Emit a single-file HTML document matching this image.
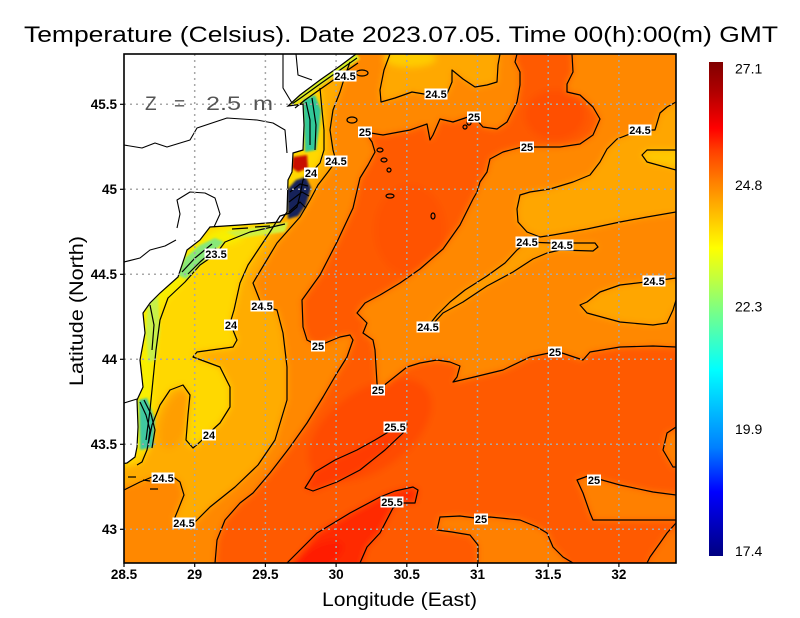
<!DOCTYPE html>
<html><head><meta charset="utf-8"><style>
html,body{margin:0;padding:0;background:#fff;}
svg{display:block;}
text{font-family:"Liberation Sans",sans-serif;}
.lab rect{fill:#fff;}
.lab text{font-size:11px;font-weight:bold;text-anchor:middle;fill:#000;}
</style></head><body>
<svg width="800" height="618" viewBox="0 0 800 618" xmlns="http://www.w3.org/2000/svg">
<defs>
<clipPath id="clip"><rect x="124" y="54" width="552" height="509"/></clipPath>
<filter id="blur" filterUnits="userSpaceOnUse" x="80" y="20" width="640" height="590"><feGaussianBlur stdDeviation="3.5"/></filter>
<filter id="blur1" filterUnits="userSpaceOnUse" x="80" y="20" width="640" height="590"><feGaussianBlur stdDeviation="1"/></filter>
<linearGradient id="cb" x1="0" y1="0" x2="0" y2="1">
<stop offset="0" stop-color="#800000"/><stop offset="0.06" stop-color="#b00000"/><stop offset="0.134" stop-color="#ff0000"/><stop offset="0.18" stop-color="#ff4000"/><stop offset="0.243" stop-color="#ff8000"/><stop offset="0.31" stop-color="#ffc000"/><stop offset="0.377" stop-color="#ffff00"/><stop offset="0.44" stop-color="#c0ff40"/><stop offset="0.498" stop-color="#80ff80"/><stop offset="0.56" stop-color="#40ffc0"/><stop offset="0.623" stop-color="#00ffff"/><stop offset="0.7" stop-color="#00c0ff"/><stop offset="0.78" stop-color="#0080ff"/><stop offset="0.87" stop-color="#0000ff"/><stop offset="1" stop-color="#000080"/>
</linearGradient>
</defs>

<!-- Title -->
<text x="24" y="42" font-size="22" textLength="754" lengthAdjust="spacingAndGlyphs" fill="#000">Temperature (Celsius). Date 2023.07.05. Time 00(h):00(m) GMT</text>

<g clip-path="url(#clip)">
 <g filter="url(#blur)">
  <rect x="90" y="20" width="620" height="590" fill="#ff5a00"/>
  <ellipse cx="370" cy="430" rx="70" ry="40" fill="#ff4c00" transform="rotate(-35 370 430)"/>
  <ellipse cx="555" cy="115" rx="30" ry="25" fill="#ff5000"/>
  <ellipse cx="410" cy="230" rx="35" ry="45" fill="#ff5200"/>
  <polygon fill="#ff8800" points="110,40 517,40 515,62 520,72 520,85 517,102 507,122 497,129 483,127 474,117 468,117 453,122 440,119 433,135 430,140 427,124 410,130 383,135 365,132 372,142 375,152 368,165 360,178 353,208 337,242 320,275 302,300 303,327 307,340 318,346 340,337 350,335 353,340 347,357 337,373 323,397 307,423 290,447 270,473 253,493 240,503 225,520 217,540 214,578 110,578"/>
  <polygon fill="#ff8800" points="572,40 573,72 567,84 567,92 580,95 593,107 600,119 593,135 580,144 560,147 533,147 522,147 503,152 490,159 487,172 480,182 477,192 473,199 460,225 443,249 420,269 400,283 380,295 365,303 357,313 367,323 363,333 373,340 375,350 377,383 378,390 387,383 407,367 420,363 437,360 450,362 460,366 457,377 453,382 470,378 503,370 530,357 549,353 562,353 583,360 590,352 620,347 653,346 690,347 690,40"/>
  <polygon fill="#ff8000" points="575,578 563,557 553,547 547,533 537,527 520,520 490,517 475,518 460,516 440,517 437,530 452,532 470,535 478,545 478,578"/>
  <polygon fill="#ff8000" points="690,495 653,492 620,485 602,480 588,476 577,480 583,493 590,513 593,520 620,520 690,520"/>
  <polygon fill="#ff8000" points="690,427 667,433 663,450 673,467 690,467"/>
  <polygon fill="#ff7400" points="690,523 667,533 660,543 650,557 645,578 690,578"/>
  <polygon fill="#ffac00" points="352,40 350,62 345,76 340,92 333,110 330,130 333,150 336,161 328,172 318,185 310,200 300,217 277,243 253,283 262,306 277,310 283,333 287,367 287,400 275,440 258,465 235,487 210,507 195,522 184,523 173,522 178,510 184,495 180,482 172,476 163,478 152,477 140,482 110,490 110,40"/>
  <ellipse cx="176" cy="420" rx="13" ry="30" fill="#ff9e00" transform="rotate(20 176 420)"/>
  <polygon fill="#ffa800" points="390,40 384,70 380,90 381,102 395,98 412,92 424,94 447,94 452,82 452,70 463,79 475,87 487,85 497,82 498,65 500,40"/>
  <ellipse cx="410" cy="58" rx="26" ry="9" fill="#ffcc00"/>
  <polygon fill="#ffa600" points="690,102 667,107 660,113 655,130 640,130 617,139 607,149 600,162 590,175 573,182 550,189 530,192 520,195 517,209 518,222 527,232 540,237 553,235 587,229 620,222 647,217 690,212"/>
  <polygon fill="#ffc800" points="690,150 647,150 642,155 647,162 690,170"/>
  <polygon fill="#ffa600" points="690,278 654,281 620,285 600,292 587,302 580,305 587,313 620,322 653,325 667,323 673,310 690,300"/>
  <polygon fill="#ffa000" points="425,330 437,315 450,302 465,290 487,276 505,263 517,250 527,242 552,243 575,243 595,243 598,247 593,251 560,250 547,253 533,259 513,272 487,286 463,302 443,313 432,325"/>
  <polygon fill="#ffd800" points="320,88 322,110 324,130 324,150 320,163 311,173 303,180 300,195 297,207 290,213 280,216 270,232 258,250 248,265 240,283 234,310 231,320 233,330 237,340 233,347 197,352 193,357 220,367 230,387 230,407 220,423 208,434 200,442 193,448 186,440 188,415 190,395 183,385 170,390 160,405 152,425 147,450 142,462 110,470 110,80 300,80"/>
  <polyline fill="none" stroke="#f8f000" stroke-width="16" points="240,232 215,240 195,255 178,277 160,295 150,310 148,340 145,380 143,420 140,450"/>
  <polygon fill="#ff3a00" points="305,488 315,472 335,460 357,450 375,440 395,428 407,424 403,433 385,450 360,470 337,482 313,491"/>
  <polygon fill="#ff2c00" points="280,578 317,533 350,513 380,497 395,491 413,487 418,490 415,503 403,503 393,508 380,533 367,547 358,578"/>
  <ellipse cx="318" cy="558" rx="28" ry="12" fill="#ff1e00" transform="rotate(-30 318 558)"/>
 </g>

 <g filter="url(#blur1)">
  <polyline fill="none" stroke="#d8f028" stroke-width="7" points="290,104 300,96 320,82 340,68 358,56"/>
  <polygon fill="#30c898" points="303,100 315,95 321,110 319,130 316,150 305,152"/>
  <polygon fill="#c81000" points="293,157 307,155 308,168 298,172 292,168"/>
  <polygon fill="#14205a" points="287,190 296,180 306,177 311,188 306,205 298,216 288,219"/>
  <polygon fill="#88e878" points="178,275 185,258 200,245 215,238 224,242 210,255 196,268 186,279"/>
  <polygon fill="#c8f048" points="148,300 158,296 160,330 156,360 148,362 146,330"/>
  <polygon fill="#40c8a0" points="139,400 147,398 155,420 153,447 140,450"/>
  <polygon fill="#d0f040" points="226,232 288,222 285,232 240,238"/>
 </g>

 <polygon fill="#fff" stroke="#000" stroke-width="1.2" points="110,40 358,40 356,54 340,66 320,80 300,95 288,106 303,104 304,125 303,150 293,153 292,172 288,180 287,212 280,222 267,223 240,225 210,227 200,240 187,250 178,277 160,293 150,303 143,313 145,333 140,360 143,387 137,400 138,427 137,447 135,457 127,463 110,466"/>
 <g fill="none" stroke="#000" stroke-width="1.1" stroke-linejoin="round">
  <polyline points="124,145 142,148 155,143 167,147 190,140 197,128 227,118 257,120 273,123 285,130 287,153"/>
  <polyline points="283,54 283,88 292,103"/>
  <polyline points="296,54 298,75 312,80"/>
  <polyline points="177,228 180,214 177,200 190,192 205,193 215,198 220,214 214,227"/>
  <polyline points="124,262 140,258 150,250 165,246 176,240"/>
  <polyline points="124,403 137,399"/>
 </g>

 <g fill="none" stroke="#000" stroke-width="1.2" stroke-linejoin="round">
  <polyline points="517,54 515,62 520,72 520,85 517,102 507,122 497,129 483,127 474,117 468,117 453,122 440,119 433,135 430,140 427,124 410,130 383,135 365,132 372,142 375,152 368,165 360,178 353,208 337,242 320,275 302,300 303,327 307,340 318,346 340,337 350,335 353,340 347,357 337,373 323,397 307,423 290,447 270,473 253,493 240,503 225,520 217,540 215,563"/>
  <polyline points="572,54 573,72 567,84 567,92 580,95 593,107 600,119 593,135 580,144 560,147 533,147 522,147 503,152 490,159 487,172 480,182 477,192 473,199 460,225 443,249 420,269 400,283 380,295 365,303 357,313 367,323 363,333 373,340 375,350 377,383 378,390 387,383 407,367 420,363 437,360 450,362 460,366 457,377 453,382 470,378 503,370 530,357 549,353 562,353 583,360 590,352 620,347 653,346 676,347"/>
  <polyline points="573,563 563,557 553,547 547,533 537,527 520,520 490,517 475,518 460,516 440,517 437,530 452,532 470,535 478,545 478,563"/>
  <polyline points="676,495 653,492 620,485 602,480 588,476 577,480 583,493 590,513 593,520 620,520 676,520"/>
  <polyline points="676,427 667,433 663,450 673,467 676,467"/>
  <polyline points="676,523 667,533 660,543 650,557 647,563"/>
  <polyline points="350,62 345,76 340,92 333,110 330,130 333,150 336,161 328,172 318,185 310,200 300,217 277,243 253,283 262,306 277,310 283,333 287,367 287,400 275,440 258,465 235,487 210,507 195,522 184,523 173,522 178,510 184,495 180,482 172,476 163,478 152,477 140,482 124,490"/>
  <polyline points="390,54 384,70 380,90 381,102 395,98 412,92 424,94 447,94 452,82 452,70 463,79 475,87 487,85 497,82 498,65 500,54"/>
  <polyline points="676,102 667,107 660,113 655,130 640,130 617,139 607,149 600,162 590,175 573,182 550,189 530,192 520,195 517,209 518,222 527,232 540,237 553,235 587,229 620,222 647,217 676,212"/>
  <polyline points="676,278 654,281 620,285 600,292 587,302 580,305 587,313 620,322 653,325 667,323 673,310 676,300"/>
  <polygon points="425,330 437,315 450,302 465,290 487,276 505,263 517,250 527,242 552,243 575,243 595,243 598,247 593,251 560,250 547,253 533,259 513,272 487,286 463,302 443,313 432,325"/>
  <polyline points="320,88 322,110 324,130 324,150 320,163 311,173 303,180 300,195 297,207 290,213 280,216 270,232 258,250 248,265 240,283 234,310 231,320 233,330 237,340 233,347 197,352 193,357 220,367 230,387 230,407 220,423 208,434 200,442 193,448 186,440 188,415 190,395 183,385 170,390 160,405 152,425 147,450 142,462 137,465"/>
  <polyline points="676,150 647,150 642,155 647,162 676,170"/>
  <polygon points="305,488 315,472 335,460 357,450 375,440 395,428 407,424 403,433 385,450 360,470 337,482 313,491"/>
  <polyline points="287,563 317,533 350,513 380,497 395,491 413,487 418,490 415,503 403,503 393,508 380,533 367,547 360,563"/>
  <polyline points="285,224 250,232 225,242 216,254 200,265 185,282 168,298 160,320 156,350 153,380 150,410 146,440"/>
  <polyline points="292,104 302,97 320,84 340,70 357,58"/>
  <polyline points="295,108 305,100 322,88 342,74 358,63"/>
  <polyline points="306,102 310,120 310,145"/>
  <polyline points="312,98 316,125 315,150"/>
  <polyline points="290,192 300,184 308,186"/>
  <polyline points="289,202 302,192 309,196"/>
  <polyline points="289,212 300,202 306,208"/>
  <polyline points="182,272 195,258 212,244"/>
  <polyline points="188,274 200,262 216,248"/>
  <polyline points="140,402 146,415 150,430 148,445"/>
  <polyline points="144,400 151,414 155,430 152,448"/>
  <polyline points="150,305 154,325 152,350"/>
  <polyline points="128,477 136,477"/>
  <polyline points="143,480 150,481"/>
  <polyline points="150,489 158,489"/>
  <polyline points="232,229 248,228"/>
  <polyline points="255,227 270,226"/>
  <ellipse cx="380" cy="150" rx="3" ry="2"/>
  <ellipse cx="384" cy="160" rx="3" ry="2"/>
  <ellipse cx="389" cy="170" rx="2" ry="2"/>
  <ellipse cx="433" cy="216" rx="2" ry="3"/>
  <circle cx="465" cy="127" r="2"/>
  <circle cx="469" cy="123" r="2"/>
  <ellipse cx="352" cy="120" rx="5" ry="3"/>
  <ellipse cx="362" cy="73" rx="6" ry="3"/>
  <ellipse cx="390" cy="196" rx="4" ry="2"/>
 </g>

 <g stroke="#a8a8a8" stroke-width="1.5" stroke-dasharray="2 4">
  <line x1="194.7" y1="54" x2="194.7" y2="563"/>
  <line x1="265.4" y1="54" x2="265.4" y2="563"/>
  <line x1="336.1" y1="54" x2="336.1" y2="563"/>
  <line x1="406.8" y1="54" x2="406.8" y2="563"/>
  <line x1="477.5" y1="54" x2="477.5" y2="563"/>
  <line x1="548.2" y1="54" x2="548.2" y2="563"/>
  <line x1="618.9" y1="54" x2="618.9" y2="563"/>
  <line x1="124" y1="104.3" x2="676" y2="104.3"/>
  <line x1="124" y1="189.3" x2="676" y2="189.3"/>
  <line x1="124" y1="274.3" x2="676" y2="274.3"/>
  <line x1="124" y1="359.3" x2="676" y2="359.3"/>
  <line x1="124" y1="444.3" x2="676" y2="444.3"/>
  <line x1="124" y1="529.3" x2="676" y2="529.3"/>
 </g>

 <g font-size="19" fill="#555">
  <text x="145" y="110">Z</text>
  <text x="174" y="110">=</text>
  <text x="206" y="110" textLength="35" lengthAdjust="spacingAndGlyphs">2.5</text>
  <text x="253" y="110" textLength="20" lengthAdjust="spacingAndGlyphs">m</text>
 </g>

 <g class="lab">
  <rect x="333.5" y="70.5" width="23" height="11"/><text x="345" y="80">24.5</text>
  <rect x="424.5" y="88.5" width="23" height="11"/><text x="436" y="98">24.5</text>
  <rect x="467" y="111.5" width="14" height="11"/><text x="474" y="121">25</text>
  <rect x="358" y="126.5" width="14" height="11"/><text x="365" y="136">25</text>
  <rect x="628.5" y="124.5" width="23" height="11"/><text x="640" y="134">24.5</text>
  <rect x="520" y="141.5" width="14" height="11"/><text x="527" y="151">25</text>
  <rect x="324.5" y="155.5" width="23" height="11"/><text x="336" y="165">24.5</text>
  <rect x="304" y="167.5" width="14" height="11"/><text x="311" y="177">24</text>
  <rect x="515.5" y="236.5" width="23" height="11"/><text x="527" y="246">24.5</text>
  <rect x="550.5" y="239.5" width="23" height="11"/><text x="562" y="249">24.5</text>
  <rect x="204.5" y="248.5" width="23" height="11"/><text x="216" y="258">23.5</text>
  <rect x="642.5" y="275.5" width="23" height="11"/><text x="654" y="285">24.5</text>
  <rect x="250.5" y="300.5" width="23" height="11"/><text x="262" y="310">24.5</text>
  <rect x="224" y="319.5" width="14" height="11"/><text x="231" y="329">24</text>
  <rect x="416.5" y="321.5" width="23" height="11"/><text x="428" y="331">24.5</text>
  <rect x="311" y="340.5" width="14" height="11"/><text x="318" y="350">25</text>
  <rect x="548" y="346.5" width="14" height="11"/><text x="555" y="356">25</text>
  <rect x="371" y="384.5" width="14" height="11"/><text x="378" y="394">25</text>
  <rect x="383.5" y="421.5" width="23" height="11"/><text x="395" y="431">25.5</text>
  <rect x="202" y="429.5" width="14" height="11"/><text x="209" y="439">24</text>
  <rect x="151.5" y="472.5" width="23" height="11"/><text x="163" y="482">24.5</text>
  <rect x="587" y="474.5" width="14" height="11"/><text x="594" y="484">25</text>
  <rect x="380.5" y="496.5" width="23" height="11"/><text x="392" y="506">25.5</text>
  <rect x="474" y="513.5" width="14" height="11"/><text x="481" y="523">25</text>
  <rect x="172.5" y="517.5" width="23" height="11"/><text x="184" y="527">24.5</text>
 </g>
</g>

<rect x="124" y="54" width="552" height="509" fill="none" stroke="#000" stroke-width="1.6"/>
<g stroke="#000" stroke-width="1.2">
 <line x1="124" y1="563" x2="124" y2="567"/><line x1="194.7" y1="563" x2="194.7" y2="567"/><line x1="265.4" y1="563" x2="265.4" y2="567"/><line x1="336.1" y1="563" x2="336.1" y2="567"/><line x1="406.8" y1="563" x2="406.8" y2="567"/><line x1="477.5" y1="563" x2="477.5" y2="567"/><line x1="548.2" y1="563" x2="548.2" y2="567"/><line x1="618.9" y1="563" x2="618.9" y2="567"/>
 <line x1="120" y1="104.3" x2="124" y2="104.3"/><line x1="120" y1="189.3" x2="124" y2="189.3"/><line x1="120" y1="274.3" x2="124" y2="274.3"/><line x1="120" y1="359.3" x2="124" y2="359.3"/><line x1="120" y1="444.3" x2="124" y2="444.3"/><line x1="120" y1="529.3" x2="124" y2="529.3"/>
</g>
<g font-size="13.5" font-weight="bold" text-anchor="middle" fill="#000">
 <text x="124" y="579">28.5</text><text x="194.7" y="579">29</text><text x="265.4" y="579">29.5</text><text x="336.1" y="579">30</text><text x="406.8" y="579">30.5</text><text x="477.5" y="579">31</text><text x="548.2" y="579">31.5</text><text x="618.9" y="579">32</text>
</g>
<g font-size="13.5" font-weight="bold" text-anchor="end" fill="#000">
 <text x="117" y="109">45.5</text><text x="117" y="194">45</text><text x="117" y="279">44.5</text><text x="117" y="364">44</text><text x="117" y="449">43.5</text><text x="117" y="534">43</text>
</g>
<text x="322" y="606" font-size="19" textLength="155" lengthAdjust="spacingAndGlyphs" fill="#000">Longitude (East)</text>
<text transform="translate(83,311) rotate(-90)" font-size="19" text-anchor="middle" textLength="150" lengthAdjust="spacingAndGlyphs" fill="#000">Latitude (North)</text>

<rect x="709" y="62" width="14" height="494" fill="url(#cb)"/>
<g font-size="14" fill="#000">
 <text x="735" y="73.5">27.1</text><text x="735" y="190">24.8</text><text x="735" y="311.5">22.3</text><text x="735" y="434">19.9</text><text x="735" y="556">17.4</text>
</g>
</svg>
</body></html>
